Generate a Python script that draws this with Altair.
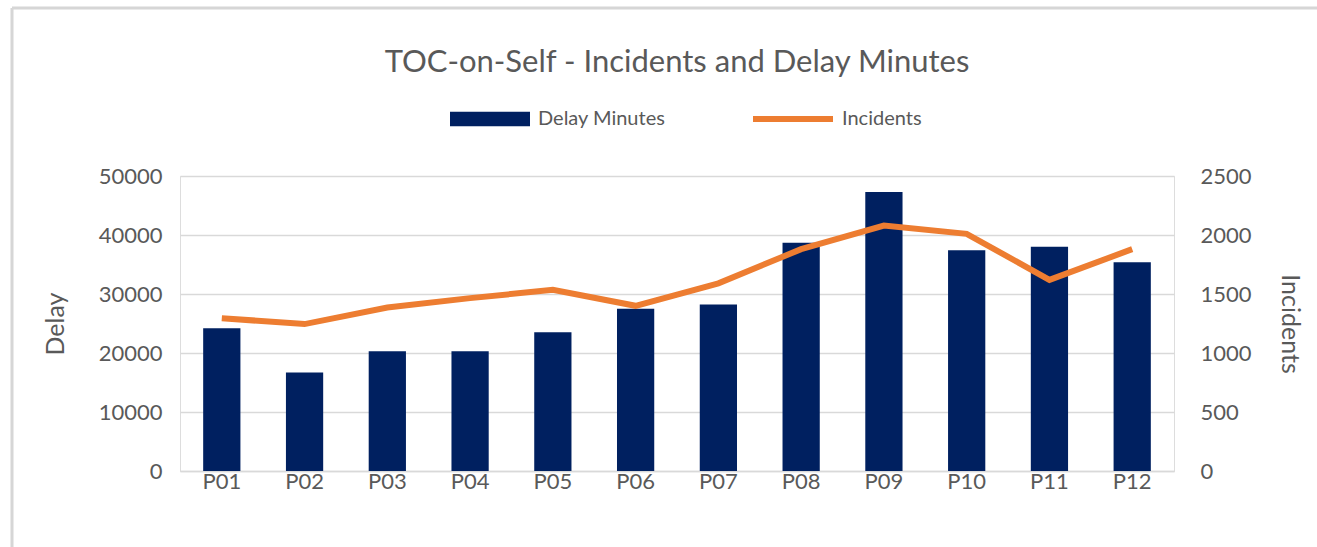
import altair as alt
import pandas as pd

periods = ["P01", "P02", "P03", "P04", "P05", "P06", "P07", "P08", "P09", "P10", "P11", "P12"]
delay_minutes = [24200, 16700, 20300, 20300, 23500, 27500, 28200, 38700, 47300, 37400, 38000, 35400]
incidents = [1295, 1245, 1385, 1465, 1535, 1400, 1590, 1880, 2080, 2010, 1620, 1880]

df = pd.DataFrame({
    "Period": periods,
    "Delay": delay_minutes,
    "Incidents": incidents,
    "s_bar": ["Delay Minutes"] * len(periods),
    "s_line": ["Incidents"] * len(periods),
})

FONT = "Lato"
GREY = "#595959"
NAVY = "#002060"
ORANGE = "#ED7D31"
FRAME = "#D6D6D6"
W, H = 994, 295
PAD = {"left": 180, "top": 176, "right": 143, "bottom": 76}

x = alt.X("Period:N", sort=periods, title=None,
          scale=alt.Scale(paddingInner=0.55, paddingOuter=0.28),
          axis=alt.Axis(labelAngle=0, labelFontSize=22, labelColor=GREY, labelFont=FONT,
                        ticks=False, domainColor="#D9D9D9", domainWidth=1.5, labelPadding=0))

bars = alt.Chart(df).mark_bar(color=NAVY).encode(
    x=x,
    y=alt.Y("Delay:Q", title="Delay",
            scale=alt.Scale(domain=[0, 50000]),
            axis=alt.Axis(values=[0, 10000, 20000, 30000, 40000, 50000], format="d",
                          labelFontSize=22, labelColor=GREY, labelFont=FONT,
                          titleFontSize=25, titleColor=GREY, titleFont=FONT, titleFontWeight="normal",
                          ticks=False, domain=False, grid=True, gridColor="#D9D9D9", gridWidth=1.5,
                          labelPadding=18, titlePadding=30)),
    fill=alt.Fill("s_bar:N", title=None,
                  scale=alt.Scale(domain=["Delay Minutes"], range=[NAVY]),
                  legend=alt.Legend(orient="none", legendX=270, legendY=-97,
                                    symbolType="M-1,-0.18H1V0.18H-1Z", symbolSize=6400,
                                    labelFontSize=20, labelColor=GREY, labelFont=FONT,
                                    labelOffset=8, symbolStrokeWidth=0)),
)

line = alt.Chart(df).mark_line(color=ORANGE, strokeWidth=6).encode(
    x=x,
    y=alt.Y("Incidents:Q", title="Incidents",
            scale=alt.Scale(domain=[0, 2500]),
            axis=alt.Axis(orient="right", values=[0, 500, 1000, 1500, 2000, 2500], format="d",
                          labelFontSize=22, labelColor=GREY, labelFont=FONT,
                          titleFontSize=25, titleColor=GREY, titleFont=FONT, titleFontWeight="normal",
                          ticks=False, domain=False, grid=False,
                          labelPadding=26, titlePadding=25)),
    stroke=alt.Stroke("s_line:N", title=None,
                      scale=alt.Scale(domain=["Incidents"], range=[ORANGE]),
                      legend=alt.Legend(orient="none", legendX=570, legendY=-100,
                                        symbolType="stroke", symbolSize=6400, symbolStrokeWidth=6,
                                        labelFontSize=20, labelColor=GREY, labelFont=FONT,
                                        labelOffset=6)),
)

frame_df = pd.DataFrame({"k": [0]})
frame_left = alt.Chart(frame_df).mark_rule(color=FRAME, strokeWidth=3).encode(
    x=alt.value(-168), y=alt.value(-168), y2=alt.value(371))
frame_top = alt.Chart(frame_df).mark_rule(color=FRAME, strokeWidth=3).encode(
    x=alt.value(-168), x2=alt.value(1137), y=alt.value(-168))

chart = alt.layer(frame_left, frame_top, bars, line).resolve_scale(
    y="independent", fill="independent", stroke="independent").properties(
    width=W, height=H,
    autosize=alt.AutoSizeParams(type="none"),
    padding=PAD,
    title=alt.TitleParams("TOC-on-Self - Incidents and Delay Minutes", fontSize=31, color=GREY,
                          font=FONT, fontWeight="normal", anchor="middle", offset=-72),
).configure_view(stroke=None).configure(background="white")

chart.save("out.html", embed_options={"renderer": "svg", "actions": False})
